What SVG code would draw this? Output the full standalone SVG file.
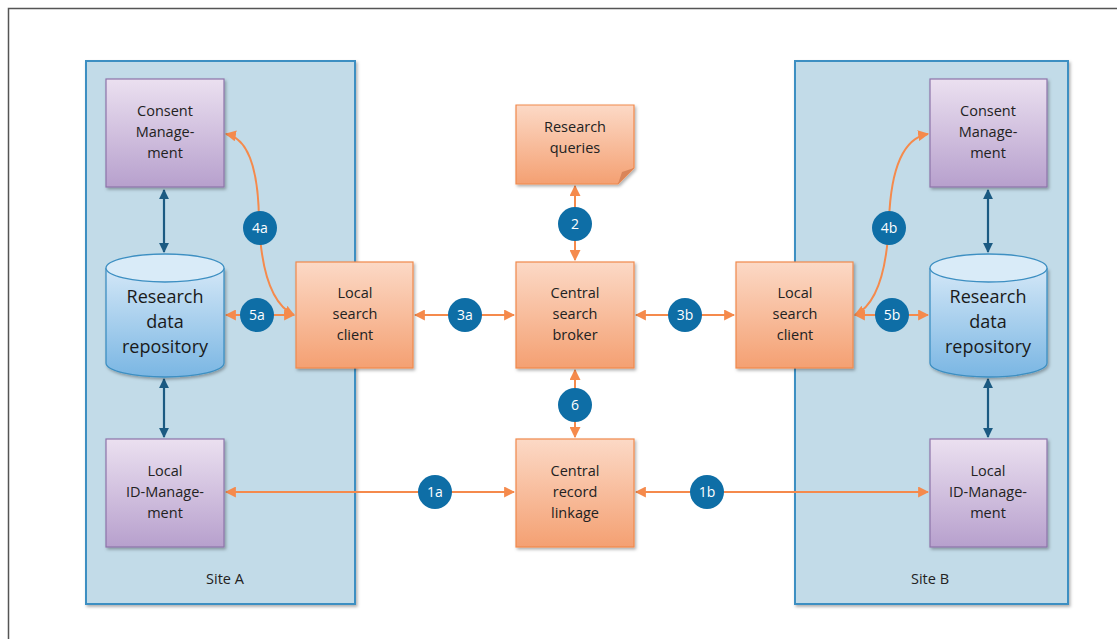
<svg xmlns="http://www.w3.org/2000/svg" width="1117" height="639" viewBox="0 0 1117 639">
<style>
.panel{fill:#c2dbe8;stroke:#3d8fc2;stroke-width:2}
.purple{fill:url(#gp);stroke:#8d73a9;stroke-width:1.2}
.orange{fill:url(#go);stroke:#f0894c;stroke-width:1.2}
.cyl{fill:url(#gc);stroke:#3d8fc2;stroke-width:1.3}
.cyltop{fill:#d9ebf8;stroke:#3d8fc2;stroke-width:1.3}
.t{font-family:"Open Sans","Liberation Sans",sans-serif;font-size:14.5px;fill:#222;text-anchor:middle}
.tb{font-family:"Open Sans","Liberation Sans",sans-serif;font-size:18px;fill:#1a1a1a;text-anchor:middle}
.badge{fill:#0e6ea6}
.bt{font-family:"Open Sans","Liberation Sans",sans-serif;font-size:14px;fill:#fff;text-anchor:middle}
.oc{fill:none;stroke:#f58a4c;stroke-width:2;marker-start:url(#oa);marker-end:url(#oa)}
.bc{fill:none;stroke:#1b5a82;stroke-width:2.2;marker-start:url(#ba);marker-end:url(#ba)}
</style>
<defs>
<linearGradient id="gp" x1="0" y1="0" x2="0" y2="1"><stop offset="0" stop-color="#ebe0f0"/><stop offset="1" stop-color="#b7a0cd"/></linearGradient>
<linearGradient id="go" x1="0" y1="0" x2="0" y2="1"><stop offset="0" stop-color="#fcd9c6"/><stop offset="1" stop-color="#f4a072"/></linearGradient>
<linearGradient id="gc" x1="0" y1="0" x2="0" y2="1"><stop offset="0" stop-color="#d3e7f7"/><stop offset="1" stop-color="#7ab6e3"/></linearGradient>
<marker id="oa" viewBox="0 0 10 10" refX="9" refY="5" markerWidth="5.5" markerHeight="5.5" orient="auto-start-reverse"><path d="M0,0 L10,5 L0,10 z" fill="#f58a4c"/></marker>
<marker id="ba" viewBox="0 0 10 10" refX="9" refY="5" markerWidth="4.5" markerHeight="4.5" orient="auto-start-reverse"><path d="M0,0 L10,5 L0,10 z" fill="#1b5a82"/></marker>
<filter id="sh" x="-10%" y="-10%" width="125%" height="125%"><feDropShadow dx="1.5" dy="2" stdDeviation="1.5" flood-color="#000" flood-opacity="0.3"/></filter>
</defs>
<rect x="0" y="0" width="1117" height="639" fill="#fff"/>
<path d="M8.5,645 V8.5 H1125" fill="none" stroke="#555" stroke-width="1.5"/>

<g id="siteA"><rect class="panel" x="86" y="61" width="269" height="543" filter="url(#sh)"/><text class="t" x="225" y="584" font-size="13">Site A</text></g>
<g id="siteB"><rect class="panel" x="795" y="61" width="273" height="543" filter="url(#sh)"/><text class="t" x="930" y="584" font-size="13">Site B</text></g>

<g id="connectors">
<line class="bc" x1="164" y1="190" x2="164" y2="252"/>
<line class="bc" x1="164" y1="379" x2="164" y2="437"/>
<line class="bc" x1="988" y1="190" x2="988" y2="252"/>
<line class="bc" x1="988" y1="379" x2="988" y2="437"/>
<line class="oc" x1="226" y1="315" x2="294" y2="315"/>
<line class="oc" x1="415" y1="315" x2="514" y2="315"/>
<line class="oc" x1="636" y1="315" x2="734" y2="315"/>
<line class="oc" x1="855" y1="315" x2="928" y2="315"/>
<line class="oc" x1="575" y1="186" x2="575" y2="260"/>
<line class="oc" x1="575" y1="370" x2="575" y2="437"/>
<line class="oc" x1="226" y1="492" x2="514" y2="492"/>
<line class="oc" x1="636" y1="492" x2="928" y2="492"/>
<path class="oc" d="M226,134 Q258,140 259,220 Q262,300 294,315"/>
<path class="oc" d="M928,134 Q892,140 889,220 Q886,300 855,315"/>
</g>

<g id="consentA"><rect class="purple" x="106" y="79" width="118" height="108" filter="url(#sh)"/><text class="t" x="165" y="116">Consent</text><text class="t" x="165" y="137">Manage-</text><text class="t" x="165" y="158">ment</text></g>
<g id="repoA"><path class="cyl" d="M106,268 V363 A59,14 0 0 0 224,363 V268" filter="url(#sh)"/><ellipse class="cyltop" cx="165" cy="268" rx="59" ry="14"/><text class="tb" x="165" y="303">Research</text><text class="tb" x="165" y="328">data</text><text class="tb" x="165" y="353">repository</text></g>
<g id="idA"><rect class="purple" x="106" y="439" width="118" height="108" filter="url(#sh)"/><text class="t" x="165" y="476">Local</text><text class="t" x="165" y="497">ID-Manage-</text><text class="t" x="165" y="518">ment</text></g>
<g id="clientA"><rect class="orange" x="296" y="262" width="117" height="106" filter="url(#sh)"/><text class="t" x="355" y="298">Local</text><text class="t" x="355" y="319">search</text><text class="t" x="355" y="340">client</text></g>
<g id="queries"><path class="orange" d="M516,105 H634 V168 L618,184 H516 Z" filter="url(#sh)"/><path d="M618,184 L622,172 L634,168 Z" fill="#d9855a"/><text class="t" x="575" y="132">Research</text><text class="t" x="575" y="153">queries</text></g>
<g id="broker"><rect class="orange" x="516" y="262" width="118" height="106" filter="url(#sh)"/><text class="t" x="575" y="298">Central</text><text class="t" x="575" y="319">search</text><text class="t" x="575" y="340">broker</text></g>
<g id="linkage"><rect class="orange" x="516" y="439" width="118" height="108" filter="url(#sh)"/><text class="t" x="575" y="476">Central</text><text class="t" x="575" y="497">record</text><text class="t" x="575" y="518">linkage</text></g>
<g id="clientB"><rect class="orange" x="736" y="262" width="117" height="106" filter="url(#sh)"/><text class="t" x="795" y="298">Local</text><text class="t" x="795" y="319">search</text><text class="t" x="795" y="340">client</text></g>
<g id="consentB"><rect class="purple" x="930" y="79" width="117" height="108" filter="url(#sh)"/><text class="t" x="988" y="116">Consent</text><text class="t" x="988" y="137">Manage-</text><text class="t" x="988" y="158">ment</text></g>
<g id="repoB"><path class="cyl" d="M930,268 V363 A58.5,14 0 0 0 1047,363 V268" filter="url(#sh)"/><ellipse class="cyltop" cx="988.5" cy="268" rx="58.5" ry="14"/><text class="tb" x="988" y="303">Research</text><text class="tb" x="988" y="328">data</text><text class="tb" x="988" y="353">repository</text></g>
<g id="idB"><rect class="purple" x="930" y="439" width="117" height="108" filter="url(#sh)"/><text class="t" x="988" y="476">Local</text><text class="t" x="988" y="497">ID-Manage-</text><text class="t" x="988" y="518">ment</text></g>

<g id="badges">
<circle class="badge" cx="260" cy="228" r="17"/><text class="bt" x="260" y="233">4a</text>
<circle class="badge" cx="257" cy="315" r="17"/><text class="bt" x="257" y="320">5a</text>
<circle class="badge" cx="465" cy="315" r="17"/><text class="bt" x="465" y="320">3a</text>
<circle class="badge" cx="685" cy="315" r="17"/><text class="bt" x="685" y="320">3b</text>
<circle class="badge" cx="575" cy="224" r="17"/><text class="bt" x="575" y="229">2</text>
<circle class="badge" cx="575" cy="405" r="17"/><text class="bt" x="575" y="410">6</text>
<circle class="badge" cx="435" cy="492" r="17"/><text class="bt" x="435" y="497">1a</text>
<circle class="badge" cx="707" cy="492" r="17"/><text class="bt" x="707" y="497">1b</text>
<circle class="badge" cx="889" cy="228" r="17"/><text class="bt" x="889" y="233">4b</text>
<circle class="badge" cx="892" cy="315" r="17"/><text class="bt" x="892" y="320">5b</text>
</g>
</svg>
